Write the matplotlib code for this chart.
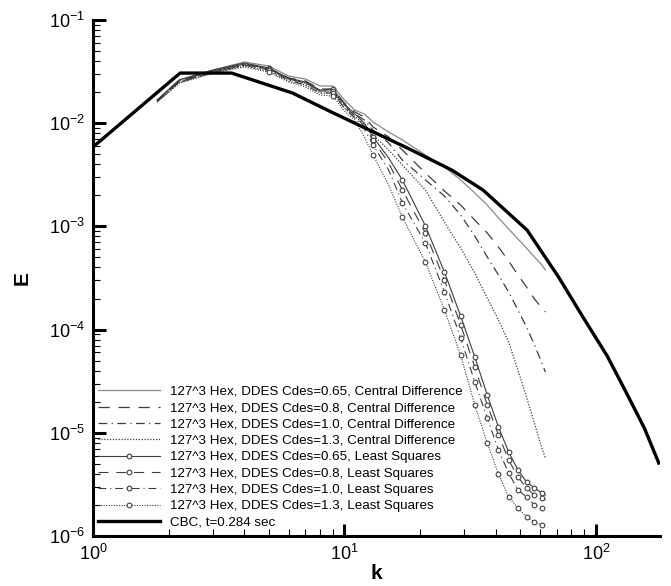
import matplotlib
matplotlib.use("Agg")
import matplotlib.pyplot as plt
import numpy as np

plt.rcParams['font.family'] = ['Liberation Sans', 'DejaVu Sans']
plt.rcParams['mathtext.fontset'] = 'custom'
plt.rcParams['mathtext.rm'] = 'Liberation Sans'

# reference spectrum (CBC experiment)
k_cbc = [1.0, 2.22, 3.56, 6.22, 8.89, 13.3, 17.8, 22.2, 26.7, 35.6, 53.3, 71.1, 88.9, 111, 133, 156, 178]
E_cbc = [5.88e-3, 0.0306, 0.0306, 0.0196, 0.0128, 8.04e-3, 5.75e-3, 4.40e-3, 3.52e-3, 2.25e-3,
         9.2e-4, 3.23e-4, 1.32e-4, 5.55e-5, 2.38e-5, 1.11e-5, 5.10e-6]

# simulation wavenumbers
k_sim = [1.8, 2.2, 3, 4, 5, 6, 7, 8, 9, 10, 11, 12, 13, 15, 17, 21, 25, 29, 33, 37, 41, 45, 49, 53, 57, 61, 63]

E_cd065 = [0.01677, 0.0262, 0.03276, 0.03917, 0.03582, 0.02865, 0.0268, 0.02292, 0.02292, 0.01677, 0.01342,
           0.01228, 0.01027, 0.00822, 0.00688, 0.00492, 0.00376, 0.00282, 0.00211, 0.00161, 0.00121,
           9.44e-4, 7.55e-4, 6.17e-4, 5.05e-4, 4.23e-4, 3.78e-4]
E_cd08 = [0.0164, 0.02563, 0.03203, 0.03746, 0.03425, 0.0274, 0.02563, 0.02143, 0.02143, 0.01568, 0.01284,
          0.01148, 9.19e-3, 7.35e-3, 5.50e-3, 3.29e-3, 2.20e-3, 1.61e-3, 1.15e-3, 8.63e-4, 6.31e-4,
          4.62e-4, 3.38e-4, 2.59e-4, 1.98e-4, 1.62e-4, 1.48e-4]
E_cd10 = [0.0164, 0.02506, 0.03133, 0.03663, 0.0335, 0.0268, 0.02451, 0.0205, 0.0205, 0.015, 0.01228,
          0.01074, 8.59e-3, 6.43e-3, 4.40e-3, 2.82e-3, 1.97e-3, 1.29e-3, 8.07e-4, 5.05e-4, 3.38e-4,
          2.31e-4, 1.55e-4, 1.06e-4, 7.10e-5, 4.75e-5, 3.88e-5]
E_cd13 = [0.01604, 0.02451, 0.03063, 0.03582, 0.03203, 0.02563, 0.02344, 0.0196, 0.0196, 0.01403, 0.01148,
          0.00982, 0.00769, 0.0055, 0.00393, 0.00225, 0.0011, 6.17e-4, 3.54e-4, 2.02e-4, 1.24e-4,
          7.59e-5, 4.06e-5, 2.22e-5, 1.24e-5, 7.12e-6, 5.70e-6]
E_ls065 = [0.01677, 0.0262, 0.03276, 0.03831, 0.03425, 0.0274, 0.02506, 0.02096, 0.02143, 0.01534, 0.01228,
           0.01004, 0.00735, 0.0046, 0.00282, 0.00101, 3.61e-4, 1.35e-4, 5.43e-5, 2.32e-5, 1.14e-5,
           6.52e-6, 4.36e-6, 3.34e-6, 2.92e-6, 2.61e-6, 2.50e-6]
E_ls08 = [0.0164, 0.02563, 0.03203, 0.03746, 0.0335, 0.0268, 0.02451, 0.0205, 0.0205, 0.01468, 0.01174,
          0.00939, 0.00688, 0.00411, 0.00225, 8.63e-4, 3.03e-4, 1.11e-4, 4.34e-5, 1.86e-5, 9.52e-6,
          5.45e-6, 3.73e-6, 2.92e-6, 2.50e-6, 2.34e-6, 2.23e-6]
E_ls10 = [0.0164, 0.02506, 0.03133, 0.03663, 0.03276, 0.0262, 0.02344, 0.0196, 0.0196, 0.01403, 0.01123,
          0.00879, 0.00615, 0.00352, 0.00169, 6.90e-4, 2.31e-4, 8.29e-5, 3.11e-5, 1.39e-5, 6.81e-6,
          4.08e-6, 2.79e-6, 2.39e-6, 2.00e-6, 1.87e-6, 1.79e-6]
E_ls13 = [0.01604, 0.02451, 0.03063, 0.03503, 0.03133, 0.02506, 0.02241, 0.01875, 0.01833, 0.01312, 0.01074,
          0.00735, 0.00492, 0.00252, 0.00123, 4.52e-4, 1.55e-4, 5.67e-5, 1.86e-5, 7.96e-6, 3.99e-6,
          2.39e-6, 1.87e-6, 1.53e-6, 1.37e-6, 1.28e-6, 1.22e-6]

labels = [
    "127^3 Hex, DDES Cdes=0.65, Central Difference",
    "127^3 Hex, DDES Cdes=0.8, Central Difference",
    "127^3 Hex, DDES Cdes=1.0, Central Difference",
    "127^3 Hex, DDES Cdes=1.3, Central Difference",
    "127^3 Hex, DDES Cdes=0.65, Least Squares",
    "127^3 Hex, DDES Cdes=0.8, Least Squares",
    "127^3 Hex, DDES Cdes=1.0, Least Squares",
    "127^3 Hex, DDES Cdes=1.3, Least Squares",
    "CBC, t=0.284 sec",
]

dash_styles = ['-', (0, (9, 7)), (0, (7, 3.5, 1, 3.5)), (0, (1, 1.3))]

fig = plt.figure(figsize=(6.71, 5.86), dpi=100)
ax = fig.add_axes([93 / 671, 50 / 586, (660 - 93) / 671, (536 - 20) / 586])

# marker every 4th wavenumber, starting at k=5
mark_idx = [i for i, k in enumerate(k_sim) if float(k).is_integer() and k >= 5 and (k - 1) % 4 == 0]

cd_series = [E_cd065, E_cd08, E_cd10, E_cd13]
ls_series = [E_ls065, E_ls08, E_ls10, E_ls13]

for i, E in enumerate(cd_series):
    col = '#8a8a8a' if i == 0 else '#3c3c3c'
    ax.plot(k_sim, E, color=col, lw=0.9, linestyle=dash_styles[i], label=labels[i])

for i, E in enumerate(ls_series):
    ax.plot(k_sim, E, color='#3c3c3c', lw=0.8, linestyle=dash_styles[i],
            marker='o', markersize=3.4, markerfacecolor='white', markeredgecolor='#404040',
            markeredgewidth=0.8, markevery=mark_idx, label=labels[4 + i])

ax.plot(k_cbc, E_cbc, color='black', lw=2.4, label=labels[8])

ax.set_xscale('log')
ax.set_yscale('log')
ax.set_xlim(1, 180)
ax.set_ylim(1e-6, 1e-1)

for side in ['top', 'right']:
    ax.spines[side].set_visible(False)
for side in ['left', 'bottom']:
    ax.spines[side].set_linewidth(2.2)

ax.tick_params(which='major', direction='in', length=9, width=2.2, labelsize=13, pad=6)
ax.tick_params(which='minor', direction='in', length=5, width=0.8)
ax.tick_params(top=False, right=False, which='both')

ax.set_xlabel('k', fontsize=15, fontweight='bold', labelpad=0)
ax.set_ylabel('E', fontsize=15, fontweight='bold', labelpad=12)

ax.legend(loc='lower left', bbox_to_anchor=(0.0, 0.004), frameon=False, fontsize=9.6,
          handlelength=4.6, handletextpad=0.75, labelspacing=0.3, borderaxespad=0.2,
          borderpad=0.2)

fig.savefig('out.png', dpi=100)
